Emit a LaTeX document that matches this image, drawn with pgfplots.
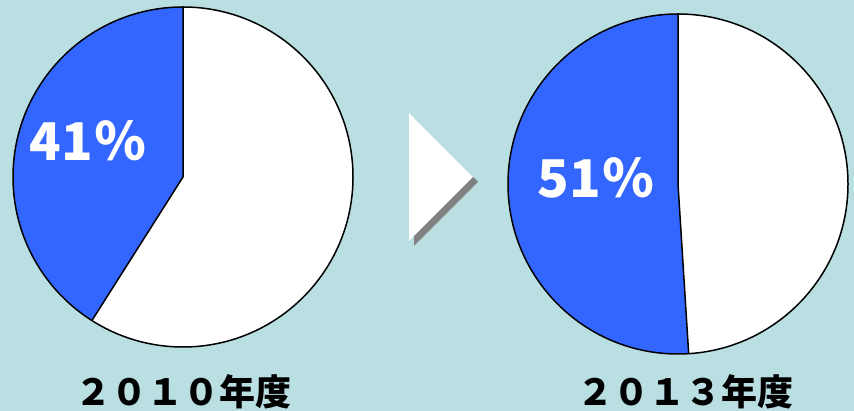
\documentclass[border=0pt]{standalone}
\usepackage{pgfplots}
\pgfplotsset{compat=1.18}
\usepackage{pgfplotstable}
\usepackage{fontspec}
\setmainfont{Liberation Sans}
\newfontfamily\jp{Noto Sans CJK JP}

\definecolor{bg}{RGB}{185,223,226}
\definecolor{pieblue}{RGB}{51,102,255}
\definecolor{shade}{RGB}{128,128,128}

% share of the blue slice (%) and where each pie sits (pixel-like units)
\pgfplotstableread{
year share cx  cy  lx  ly
2010 41    183 234 88  270
2013 51    678 227 596 233
}\piedata

\pgfplotstablegetelem{0}{share}\of\piedata \let\shareA\pgfplotsretval
\pgfplotstablegetelem{1}{share}\of\piedata \let\shareB\pgfplotsretval
\pgfmathsetmacro\angA{90+3.6*\shareA}
\pgfmathsetmacro\angB{90+3.6*\shareB}

\newcommand\pct[1]{#1\kern2pt\jp ％}

\begin{document}
\begin{tikzpicture}
\fill[bg] (0,0) rectangle (854pt,411pt);
\begin{axis}[
	at={(0,0)}, anchor=south west,
	width=854pt, height=411pt,
	scale only axis,
	xmin=0, xmax=854,
	ymin=0, ymax=411,
	hide axis,
	clip=false,
	]
% arrow with shadow
\addplot[fill=shade, draw=none] coordinates {(414,293) (478,229) (414,165)};
\addplot[fill=white, draw=none] coordinates {(409,298) (473,234) (409,170)};

% 2010 pie
\fill[white] (axis cs:183,234) circle[radius=170pt];
\fill[pieblue] (axis cs:183,234) -- (axis cs:183,404)
	arc[start angle=90, end angle=\angA, radius=170pt] -- cycle;
\draw[line width=1.5pt] (axis cs:183,234) circle[radius=170pt];
\draw[line width=1.5pt] (axis cs:183,404) -- (axis cs:183,234)
	-- ([shift={(\angA:170pt)}]axis cs:183,234);
\node[white, font=\jp\bfseries\fontsize{52}{52}\selectfont]
	at (axis cs:88,270) {\pct{\shareA}};
\node[black, font=\jp\bfseries\fontsize{36}{36}\selectfont, inner sep=0pt]
	at (axis cs:183,19.5) {２０１０年度};

% 2013 pie
\fill[white] (axis cs:678,227) circle[radius=170pt];
\fill[pieblue] (axis cs:678,227) -- (axis cs:678,397)
	arc[start angle=90, end angle=\angB, radius=170pt] -- cycle;
\draw[line width=1.5pt] (axis cs:678,227) circle[radius=170pt];
\draw[line width=1.5pt] (axis cs:678,397) -- (axis cs:678,227)
	-- ([shift={(\angB:170pt)}]axis cs:678,227);
\node[white, font=\jp\bfseries\fontsize{52}{52}\selectfont]
	at (axis cs:596,233) {\pct{\shareB}};
\node[black, font=\jp\bfseries\fontsize{36}{36}\selectfont, inner sep=0pt]
	at (axis cs:685,19.5) {２０１３年度};
\end{axis}
\pgfresetboundingbox
\path (0,0) rectangle (854pt,411pt);
\end{tikzpicture}
\end{document}
